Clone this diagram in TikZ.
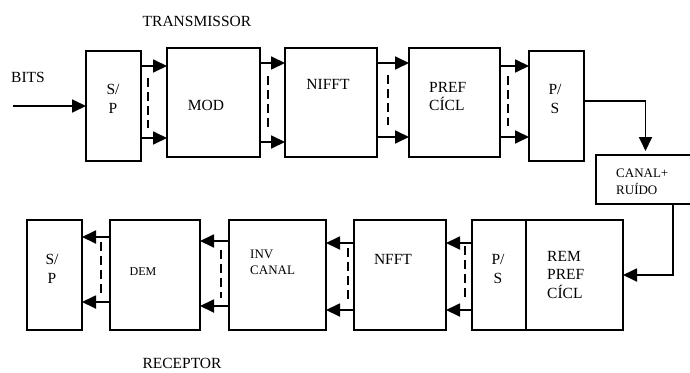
\documentclass[tikz,border=0pt]{standalone}
\usepackage{fontspec}
\setmainfont{Liberation Serif}
\usetikzlibrary{arrows.meta,calc}
\begin{document}
\begin{tikzpicture}[x=1pt,y=-1pt,
  box/.style={draw,line width=1.8pt,inner sep=0pt,outer sep=0pt},
  arr/.style={line width=1.8pt,-{Triangle[length=14pt,width=13pt]}},
  dsh/.style={line width=1.8pt,dash pattern=on 9pt off 5pt},
  lbl/.style={font=\fontsize{15.5}{19}\selectfont,inner sep=0pt},
  slbl/.style={font=\fontsize{13}{16.5}\selectfont,inner sep=0pt}]
\useasboundingbox (0,0) rectangle (690,372);
% transmitter boxes
\node[box,minimum width=55pt,minimum height=110pt] (sp1) at (113.5,106) {};
\node[box,minimum width=93pt,minimum height=109pt] (mod) at (213.5,102.5) {};
\node[box,minimum width=92pt,minimum height=109pt] (nifft) at (331,102.5) {};
\node[box,minimum width=91pt,minimum height=109pt] (pref) at (454.5,102.5) {};
\node[box,minimum width=55pt,minimum height=110pt] (ps1) at (556.5,106) {};
\node[box,minimum width=99pt,minimum height=49pt] (canal) at (645.5,179.5) {};
% receiver boxes
\node[box,minimum width=97pt,minimum height=110pt] (rem) at (574.5,275) {};
\node[box,minimum width=54pt,minimum height=110pt] (ps2) at (499,275) {};
\node[box,minimum width=92pt,minimum height=110pt] (nfft) at (400,275) {};
\node[box,minimum width=97pt,minimum height=110pt] (inv) at (277.5,275) {};
\node[box,minimum width=90pt,minimum height=110pt] (dem) at (155,275) {};
\node[box,minimum width=55pt,minimum height=110pt] (sp2) at (54.5,275) {};
% labels
\node[lbl] (ttx) at (197,21) {TRANSMISSOR};
\node[lbl] (tbits) at (28,77) {BITS};
\node[lbl,align=center] (tsp1) at (113,99) {S/\\P};
\node[lbl] (tmod) at (206,105) {MOD};
\node[lbl] (tnifft) at (328,84) {NIFFT};
\node[lbl,align=left,anchor=west,font=\fontsize{15.5}{18}\selectfont] (tpref) at (429,96) {PREF\\CÍCL};
\node[lbl,align=center] (tps1) at (555,99) {P/\\S};
\node[slbl,align=left,anchor=west,font=\fontsize{13}{17}\selectfont] (tcanal) at (616,181.5) {CANAL+\\RUÍDO};
\node[lbl,align=center] (tsp2) at (52,268.5) {S/\\P};
\node[slbl,font=\fontsize{12}{14}\selectfont] (tdem) at (143,272) {DEM};
\node[slbl,align=left,anchor=west,font=\fontsize{13}{16}\selectfont] (tinv) at (250,262) {INV\\CANAL};
\node[lbl] (tnfft) at (393,259) {NFFT};
\node[lbl,align=center] (tps2) at (498,268.5) {P/\\S};
\node[lbl,align=left,anchor=west,font=\fontsize{15.5}{18.5}\selectfont] (trem) at (547,274.5) {REM\\PREF\\CÍCL};
\node[lbl] (trx) at (182,363) {RECEPTOR};
% input
\coordinate (bitsin) at (13,106);
\draw[arr] (bitsin) -- (sp1.west |- bitsin);
% transmitter links
\draw[arr] (sp1.east |- 0,66) -- (mod.west |- 0,66);
\draw[arr] (sp1.east |- 0,138) -- (mod.west |- 0,138);
\draw[dsh] (148,78) -- (148,128);
\draw[arr] (mod.east |- 0,63) -- (nifft.west |- 0,63);
\draw[arr] (mod.east |- 0,142) -- (nifft.west |- 0,142);
\draw[dsh] (268,76) -- (268,127);
\draw[arr] (nifft.east |- 0,63) -- (pref.west |- 0,63);
\draw[arr] (nifft.east |- 0,137) -- (pref.west |- 0,137);
\draw[dsh] (388,75) -- (388,125);
\draw[arr] (pref.east |- 0,66) -- (ps1.west |- 0,66);
\draw[arr] (pref.east |- 0,137) -- (ps1.west |- 0,137);
\draw[dsh] (508,76) -- (508,126);
% channel
\draw[arr,shorten >=4pt] (ps1.east |- 0,101) -| (canal.north);
\coordinate (cout) at ($(canal.south west)+(77,0)$);
\draw[arr] (cout) |- (rem.east);
% receiver links
\draw[arr] (ps2.west |- 0,243) -- (nfft.east |- 0,243);
\draw[arr] (ps2.west |- 0,310) -- (nfft.east |- 0,310);
\draw[dsh] (465,246) -- (465,300);
\draw[arr] (nfft.west |- 0,243) -- (inv.east |- 0,243);
\draw[arr] (nfft.west |- 0,310) -- (inv.east |- 0,310);
\draw[dsh] (348,248) -- (348,300);
\draw[arr] (inv.west |- 0,241) -- (dem.east |- 0,241);
\draw[arr] (inv.west |- 0,306) -- (dem.east |- 0,306);
\draw[dsh] (221,250) -- (221,298);
\draw[arr] (dem.west |- 0,237) -- (sp2.east |- 0,237);
\draw[arr] (dem.west |- 0,302) -- (sp2.east |- 0,302);
\draw[dsh] (101,242) -- (101,293);
\end{tikzpicture}
\end{document}
